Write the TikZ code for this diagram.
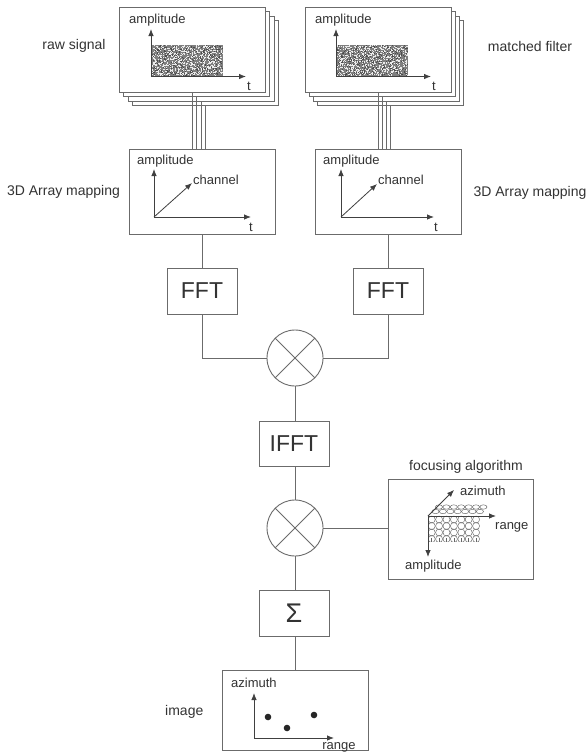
\documentclass[tikz,border=0pt]{standalone}
\usepackage{fontspec}
\setmainfont{Liberation Sans}
\usetikzlibrary{arrows.meta}
\definecolor{linec}{rgb}{0.42,0.42,0.42}
\definecolor{txtc}{rgb}{0.2,0.2,0.2}
\definecolor{axc}{rgb}{0.25,0.25,0.25}
\definecolor{gridc}{rgb}{0.4,0.4,0.4}
\definecolor{noisebase}{rgb}{0.5,0.5,0.5}
\tikzset{
  box/.style={draw=linec, line width=0.9pt, fill=white, inner sep=0pt},
  bigbox/.style={box, minimum width=146pt, minimum height=85pt},
  opbox/.style={box, minimum width=70pt, minimum height=46pt, text=txtc, font=\fontsize{23}{26}\selectfont},
  mult/.style={draw=linec, line width=0.9pt, fill=white, circle, minimum size=56pt, inner sep=0pt},
  conn/.style={draw=linec, line width=0.9pt},
  axis/.style={draw=axc, line width=0.8pt, -{Latex[length=7pt,width=5.5pt]}},
  lbl/.style={text=txtc, font=\fontsize{14}{16}\selectfont, inner sep=0pt},
  slbl/.style={text=txtc, font=\fontsize{13}{15}\selectfont, inner sep=0pt},
}
\newcommand{\noiserect}[4]{%
  \fill[noisebase] (#1,#2) rectangle (#3,#4);
  \foreach \k in {1,...,500}{%
    \pgfmathsetmacro\nx{#1+(#3-#1-1)*rnd}%
    \pgfmathsetmacro\ny{#2+(#4-#2-1)*rnd}%
    \fill[black!70] (\nx,\ny) rectangle ++(1,1);
  }
  \foreach \k in {1,...,750}{%
    \pgfmathsetmacro\nx{#1+(#3-#1-1)*rnd}%
    \pgfmathsetmacro\ny{#2+(#4-#2-1)*rnd}%
    \fill[white!85!gray] (\nx,\ny) rectangle ++(1,1);
  }
}
\begin{document}
\begin{tikzpicture}[x=1pt,y=-1pt]
\pgfmathsetseed{12345}
\useasboundingbox (0,0) rectangle (588,755);
\fill[white] (0,0) rectangle (588,755);

% ---- stacks ----
\foreach \k in {3,2,1}{
  \node[bigbox] (raw\k) at ({192+4.5*\k},{49.5+4.5*\k}) {};
  \node[bigbox] (mf\k) at ({378+4.3*\k},{49.5+4.5*\k}) {};
}
\node[bigbox] (raw0) at (192,49.5) {};
\node[bigbox] (mf0) at (378,49.5) {};

% ---- 3D mapping boxes ----
\node[bigbox] (map1) at (202,191.5) {};
\node[bigbox] (map2) at (388.5,191.5) {};

% connectors stack -> mapping
\foreach \k in {0,1,2,3}{
  \draw[conn] (raw\k.south) -- (raw\k.south |- map1.north);
  \draw[conn] (mf\k.south) -- (mf\k.south |- map2.north);
}

% ---- stack contents ----
\noiserect{151}{45}{223}{76}
\noiserect{336}{45}{408}{76}
\draw[axis] (151,76.5) -- (151,29);
\draw[axis] (151,76.5) -- (246,76.5);
\draw[axis] (336,76.5) -- (336,29);
\draw[axis] (336,76.5) -- (431,76.5);
\node[slbl, anchor=west] (a1) at (129,20) {amplitude};
\node[slbl, anchor=west] (a2) at (315,20) {amplitude};
\node[slbl] (t1) at (249,86) {t};
\node[slbl] (t2) at (434,86) {t};
\node[lbl] (lraw) at (74,46) {raw signal};
\node[lbl] (lmf) at (530,46) {matched filter};

% ---- mapping contents ----
\draw[axis] (154,217) -- (154,169);
\draw[axis] (154,217) -- (251,217);
\draw[axis] (154,217) -- (192,183);
\node[slbl, anchor=west] (a3) at (137,161) {amplitude};
\node[slbl, anchor=west] (c3) at (193,180) {channel};
\node[slbl] (t3) at (251,227) {t};
\draw[axis] (341,217) -- (341,169);
\draw[axis] (341,217) -- (434,217);
\draw[axis] (341,217) -- (377,184);
\node[slbl, anchor=west] (a4) at (323,161) {amplitude};
\node[slbl, anchor=west] (c4) at (378,180) {channel};
\node[slbl] (t4) at (436,227) {t};
\node[lbl] (lm1) at (63.5,192) {3D Array mapping};
\node[lbl] (lm2) at (530,193) {3D Array mapping};

% ---- processing chain ----
\node[opbox] (fft1) at (202,291) {FFT};
\node[opbox] (fft2) at (388,291) {FFT};
\node[mult] (m1) at (295,358) {};
\draw[linec, line width=0.9pt] (m1.north east) -- (m1.south west) (m1.north west) -- (m1.south east);
\node[opbox, minimum height=45pt] (ifft) at (294,443.5) {IFFT};
\node[mult] (m2) at (295,528) {};
\draw[linec, line width=0.9pt] (m2.north east) -- (m2.south west) (m2.north west) -- (m2.south east);
\node[opbox] (sig) at (294,613) {\fontsize{27}{30}\selectfont Σ};
\node[box, minimum width=146pt, minimum height=80pt] (img) at (295,710) {};
\node[box, minimum width=145pt, minimum height=100pt] (foc) at (460.5,529) {};

\draw[conn] (map1.south) -- (fft1.north);
\draw[conn] (map2.south -| fft2.north) -- (fft2.north);
\draw[conn] (fft1.south) |- (m1.west);
\draw[conn] (fft2.south) |- (m1.east);
\draw[conn] (m1.south) -- (m1.south |- ifft.north);
\draw[conn] (ifft.south -| m2.north) -- (m2.north);
\draw[conn] (m2.east) -- (m2.east -| foc.west);
\draw[conn] (m2.south) -- (m2.south |- sig.north);
\draw[conn] (sig.south -| img.north) -- (img.north);

% ---- focusing contents ----
\begin{scope}[draw=gridc, line width=0.45pt]
  \foreach \j in {1,2}{
    \foreach \i in {0,...,6}{
      \draw ({432+7.4*\i+3.5*\j},{516-4.5*\j}) ellipse (3.6 and 2.2);
    }
  }
  \foreach \j in {0,...,3}{
    \foreach \i in {0,...,6}{
      \draw ({431.7+7.4*\i},{519.5+6.5*\j}) circle (3.5);
    }
  }
\end{scope}
\fill[white] (426,541.5) rectangle (484,548);
\foreach \i in {0,...,6}{\draw[gridc, line width=0.45pt] ({431.7+7.4*\i},{538}) -- ({431.7+7.4*\i},{541.5});}
\draw[axis] (428,516) -- (496,516);
\draw[axis] (428,516) -- (454,490);
\draw[axis] (428,516) -- (428,557);
\node[slbl, anchor=west] (fa) at (460,491) {azimuth};
\node[slbl, anchor=west] (fr) at (495,527) {range};
\node[slbl, anchor=west] (fm) at (405,566) {amplitude};
\node[lbl] (lfoc) at (466,467) {focusing algorithm};

% ---- image contents ----
\draw[axis] (254,738) -- (254,693);
\draw[axis] (254,738) -- (334,738);
\fill[black!85] (268,717) circle (3.3) (287,728) circle (3.3) (314,715) circle (3.3);
\node[slbl, anchor=west] (ia) at (231,683) {azimuth};
\node[slbl] (ir) at (339,747) {range};
\node[lbl, anchor=west] (limg) at (165,712) {image};
\end{tikzpicture}
\end{document}
